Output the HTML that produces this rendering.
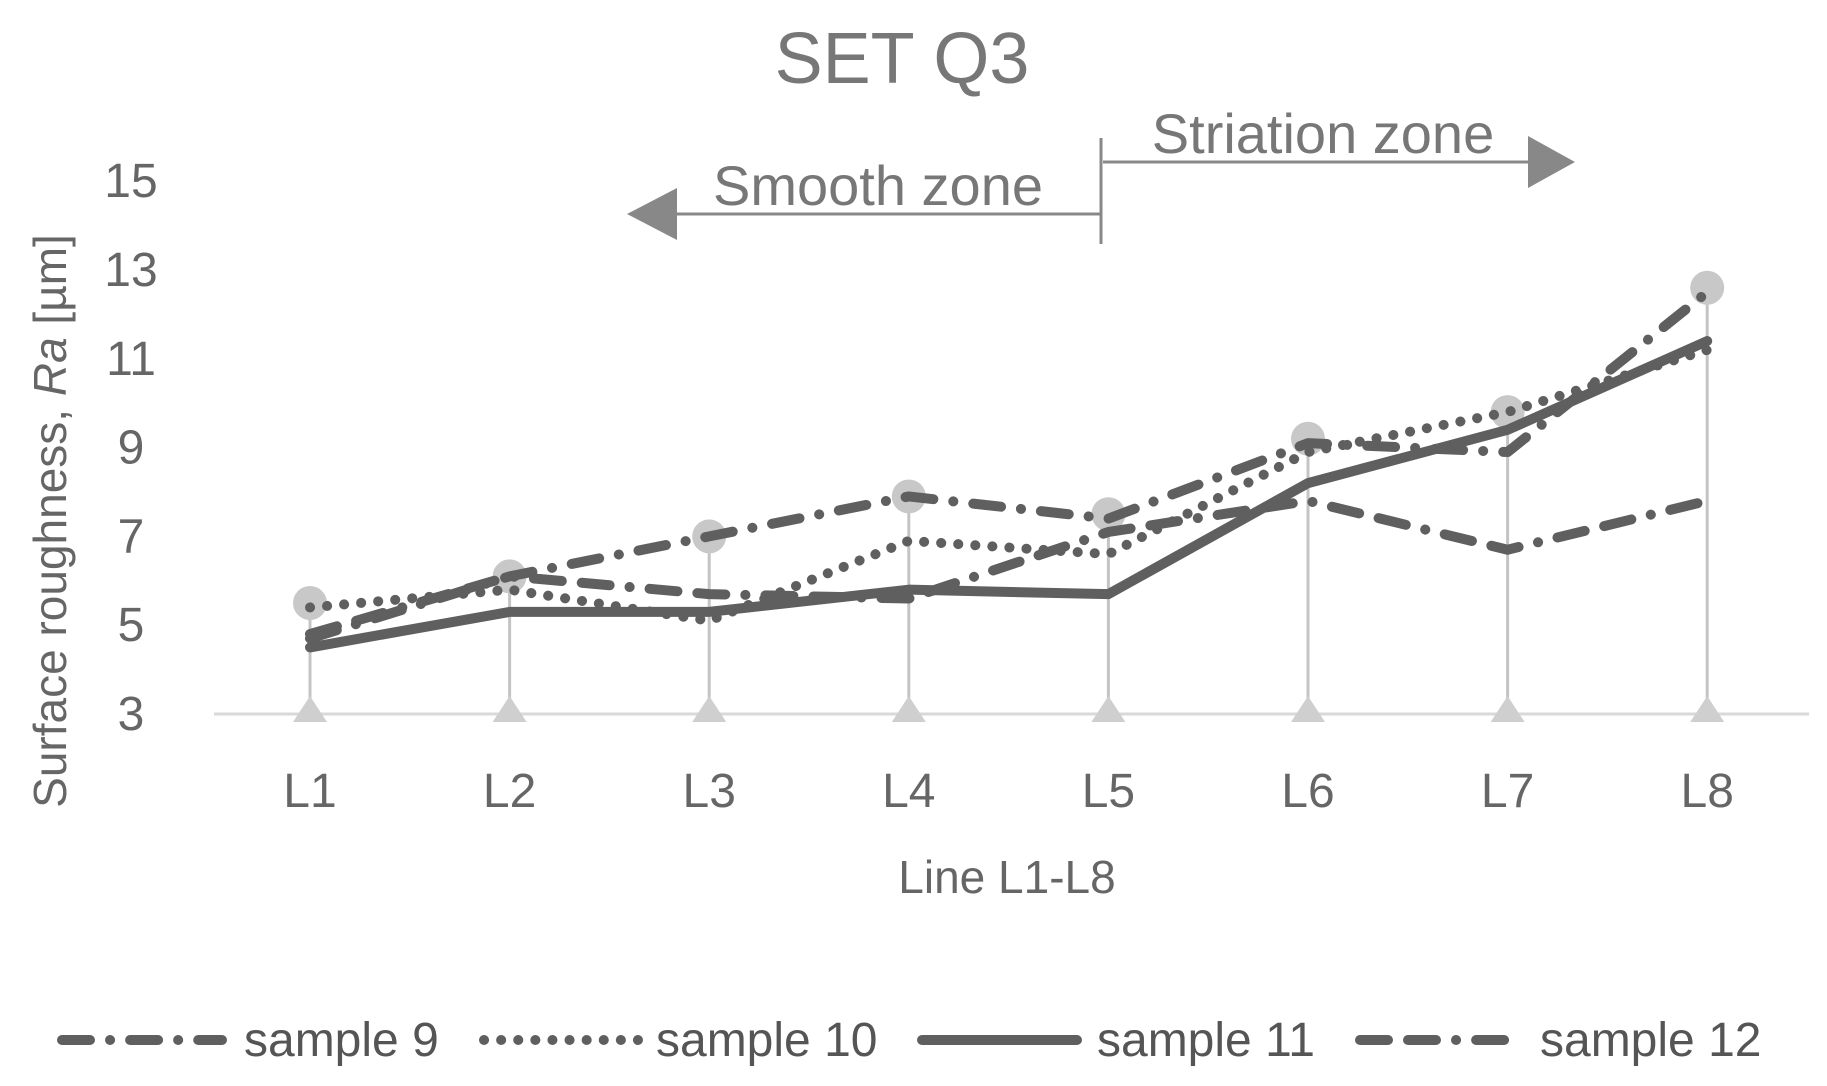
<!DOCTYPE html>
<html><head><meta charset="utf-8"><style>
html,body{margin:0;padding:0;background:#fff;}
svg{display:block;font-family:"Liberation Sans Narrow","Liberation Sans",sans-serif;}
</style></head><body>
<svg id="chart" width="1827" height="1086" viewBox="0 0 1827 1086">
<text x="902" y="83" font-size="72" fill="#777" text-anchor="middle">SET Q3</text>
<g id="yticks"></g>
<g id="xticks"></g>
<line x1="214" y1="714" x2="1809" y2="714" stroke="#d9d9d9" stroke-width="3"/>
<g id="ranges"></g>
<g id="series"></g>
<text x="1007" y="893" font-size="46" fill="#666" text-anchor="middle">Line L1-L8</text>
<text transform="translate(66,521) rotate(-90)" font-size="46" fill="#666" text-anchor="middle">Surface roughness, <tspan font-style="italic">Ra</tspan> [µm]</text>
<g>
<text x="878" y="205" font-size="56" fill="#777" text-anchor="middle">Smooth zone</text>
<line x1="1101" y1="214" x2="672" y2="214" stroke="#888" stroke-width="3"/>
<polygon points="627,214 677,188 677,240" fill="#888"/>
<line x1="1101" y1="138" x2="1101" y2="244" stroke="#888" stroke-width="3"/>
</g>
<g>
<text x="1323" y="153" font-size="56" fill="#777" text-anchor="middle">Striation zone</text>
<line x1="1103" y1="162" x2="1530" y2="162" stroke="#888" stroke-width="3"/>
<polygon points="1575,162 1528,136 1528,188" fill="#888"/>
</g>
<g id="legend"></g>
</svg>
<script>
const categories = ["L1","L2","L3","L4","L5","L6","L7","L8"];
const yTicks = [3,5,7,9,11,13,15];
const sample9 = [4.7,6.1,7.0,7.9,7.4,9.1,8.9,12.5];
const sample10 = [5.4,5.8,5.1,6.9,6.6,8.9,9.8,11.2];
const sample11 = [4.5,5.3,5.3,5.8,5.7,8.2,9.4,11.4];
const sample12 = [4.8,6.1,5.7,5.6,7.1,7.8,6.7,7.8];
const highValues = [5.5,6.1,7.0,7.9,7.5,9.2,9.8,12.6];
const lowValues = [3,3,3,3,3,3,3,3];
const seriesNames = ["sample 9","sample 10","sample 11","sample 12"];

const NS="http://www.w3.org/2000/svg";
function xPos(i){return 310+i*199.6;}
function yPos(v){return 714-(v-3)*44.4;}
function mk(tag,attrs,parent){const e=document.createElementNS(NS,tag);for(const k in attrs)e.setAttribute(k,attrs[k]);parent.appendChild(e);return e;}

const yg=document.getElementById('yticks');
yTicks.forEach(t=>{
  const e=mk('text',{x:131,y:yPos(t)+16,'font-size':48,fill:'#666','text-anchor':'middle'},yg);
  e.textContent=t;
  
  
});
const xg=document.getElementById('xticks');
categories.forEach((c,i)=>{
  const e=mk('text',{x:xPos(i),y:807,'font-size':48,fill:'#666','text-anchor':'middle'},xg);
  e.textContent=c;
  
  
});
const rg=document.getElementById('ranges');
categories.forEach((c,i)=>{
  const x=xPos(i);
  const l=mk('line',{x1:x,y1:yPos(highValues[i]),x2:x,y2:yPos(lowValues[i]),stroke:'#c4c4c4','stroke-width':3},rg);
  
  
  const ci=mk('circle',{cx:x,cy:yPos(highValues[i]),r:17,fill:'#c8c8c8'},rg);
  
  
  const yl=yPos(lowValues[i]);
  const tr=mk('polygon',{points:`${x},${yl-18} ${x-17},${yl+8} ${x+17},${yl+8}`,fill:'#cfcfcf'},rg);
  
  
});
const styles=[
  {data:sample9,dash:"28 20 0.1 20",name:'series-sample-9'},
  {data:sample10,dash:"0.1 17",name:'series-sample-10'},
  {data:sample11,dash:"",name:'series-sample-11'},
  {data:sample12,dash:"28 20 28 20 0.1 20",name:'series-sample-12'}
];
const sg=document.getElementById('series');
styles.forEach(s=>{
  const d=s.data.map((v,i)=>(i?'L':'M')+xPos(i)+','+yPos(v)).join(' ');
  const p=mk('path',{d:d,fill:'none',stroke:'#5f5f5f','stroke-width':10,'stroke-linecap':'round','stroke-linejoin':'round'},sg);
  if(s.dash)p.setAttribute('stroke-dasharray',s.dash);
  
  
});
const lg=document.getElementById('legend');
const legX=[[62,222,244],[484,638,656],[922,1077,1097],[1360,1519,1540]];
styles.forEach((s,k)=>{
  const l=mk('line',{x1:legX[k][0],y1:1040,x2:legX[k][1],y2:1040,stroke:'#5f5f5f','stroke-width':10,'stroke-linecap':'round'},lg);
  if(s.dash)l.setAttribute('stroke-dasharray',s.dash);
  
  
  const t=mk('text',{x:legX[k][2],y:1056,'font-size':48,fill:'#555'},lg);
  t.textContent=seriesNames[k];
  
  
});
</script>
</body></html>
